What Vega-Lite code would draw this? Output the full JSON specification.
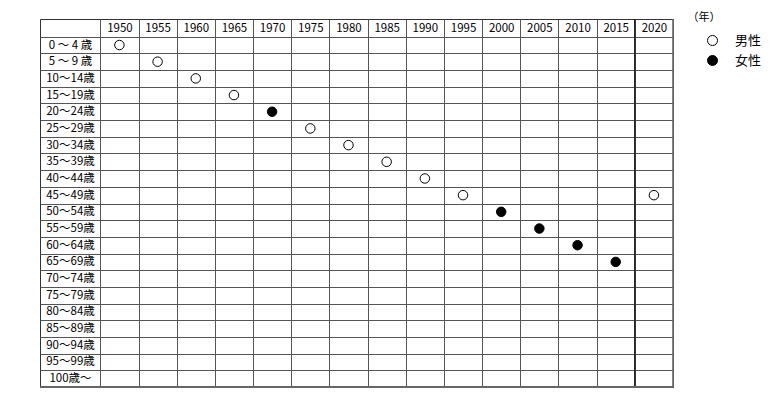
{
  "$schema": "https://vega.github.io/schema/vega-lite/v6.json",
  "width": 633,
  "height": 368,
  "autosize": "none",
  "padding": {"left": 40, "top": 19, "right": 99, "bottom": 6},
  "background": "white",
  "config": {
    "view": {"stroke": "#333", "strokeWidth": 1},
    "font": "Noto Sans CJK JP"
  },
  "layer": [
    {
      "data": {
        "values": [
          {"year": "1950", "age": "0 ～ 4 歳", "sex": "男性"},
          {"year": "1955", "age": "5 ～ 9 歳", "sex": "男性"},
          {"year": "1960", "age": "10～14歳", "sex": "男性"},
          {"year": "1965", "age": "15～19歳", "sex": "男性"},
          {"year": "1970", "age": "20～24歳", "sex": "女性"},
          {"year": "1975", "age": "25～29歳", "sex": "男性"},
          {"year": "1980", "age": "30～34歳", "sex": "男性"},
          {"year": "1985", "age": "35～39歳", "sex": "男性"},
          {"year": "1990", "age": "40～44歳", "sex": "男性"},
          {"year": "1995", "age": "45～49歳", "sex": "男性"},
          {"year": "2000", "age": "50～54歳", "sex": "女性"},
          {"year": "2005", "age": "55～59歳", "sex": "女性"},
          {"year": "2010", "age": "60～64歳", "sex": "女性"},
          {"year": "2015", "age": "65～69歳", "sex": "女性"},
          {"year": "2020", "age": "45～49歳", "sex": "男性"}
        ]
      },
      "mark": {"type": "point", "shape": "circle", "filled": true, "stroke": "black", "strokeWidth": 1, "size": 90, "opacity": 1},
      "encoding": {
        "x": {
          "field": "year", "type": "ordinal",
          "scale": {"domain": ["1950","1955","1960","1965","1970","1975","1980","1985","1990","1995","2000","2005","2010","2015","2020"], "paddingInner": 0, "paddingOuter": 0.79, "align": 1},
          "axis": {
            "orient": "top", "tickBand": "extent", "grid": true, "gridColor": "#555", "gridWidth": 1, "gridOpacity": 1,
            "ticks": false, "domain": false, "labelPadding": -9, "labelBaseline": "middle", "labelAlign": "center", "labelAngle": 0,
            "labelFontSize": 11.5, "labelColor": "black",
            "title": "（年）", "titleX": 647, "titleY": -2, "titleAngle": 0, "titleAlign": "left", "titleBaseline": "middle",
            "titleFontSize": 11, "titleFontWeight": "normal", "titleColor": "black"
          }
        },
        "y": {
          "field": "age", "type": "ordinal",
          "scale": {"domain": ["0 ～ 4 歳","5 ～ 9 歳","10～14歳","15～19歳","20～24歳","25～29歳","30～34歳","35～39歳","40～44歳","45～49歳","50～54歳","55～59歳","60～64歳","65～69歳","70～74歳","75～79歳","80～84歳","85～89歳","90～94歳","95～99歳","100歳～"], "paddingInner": 0, "paddingOuter": 0.53, "align": 1},
          "axis": {
            "orient": "left", "tickBand": "extent", "grid": true, "gridColor": "#555", "gridWidth": 1, "gridOpacity": 1,
            "ticks": false, "domain": false, "labelPadding": -30, "labelAlign": "center", "labelBaseline": "middle",
            "labelFontSize": 11.5, "labelColor": "black", "title": null
          }
        },
        "fill": {
          "field": "sex", "type": "nominal",
          "scale": {"domain": ["男性", "女性"], "range": ["white", "black"]},
          "legend": {
            "orient": "none", "legendX": 666, "legendY": 15, "title": null,
            "labelFontSize": 13, "labelColor": "black", "labelOffset": 16,
            "symbolSize": 100, "symbolType": "circle", "symbolStrokeColor": "black", "symbolStrokeWidth": 1,
            "rowPadding": 5
          }
        }
      }
    },
    {
      "data": {"values": [{"year": "2020"}]},
      "mark": {"type": "rule", "color": "#222", "strokeWidth": 1.6},
      "encoding": {"x": {"field": "year", "type": "ordinal", "bandPosition": 0}}
    },
    {
      "data": {"values": [{"year": "2020"}]},
      "mark": {"type": "rule", "color": "#666", "strokeWidth": 1.6},
      "encoding": {"x": {"field": "year", "type": "ordinal", "bandPosition": 1}}
    },
    {
      "data": {"values": [{"age": "100歳～"}]},
      "mark": {"type": "rule", "color": "#666", "strokeWidth": 2},
      "encoding": {"y": {"field": "age", "type": "ordinal", "bandPosition": 1}}
    }
  ]
}
